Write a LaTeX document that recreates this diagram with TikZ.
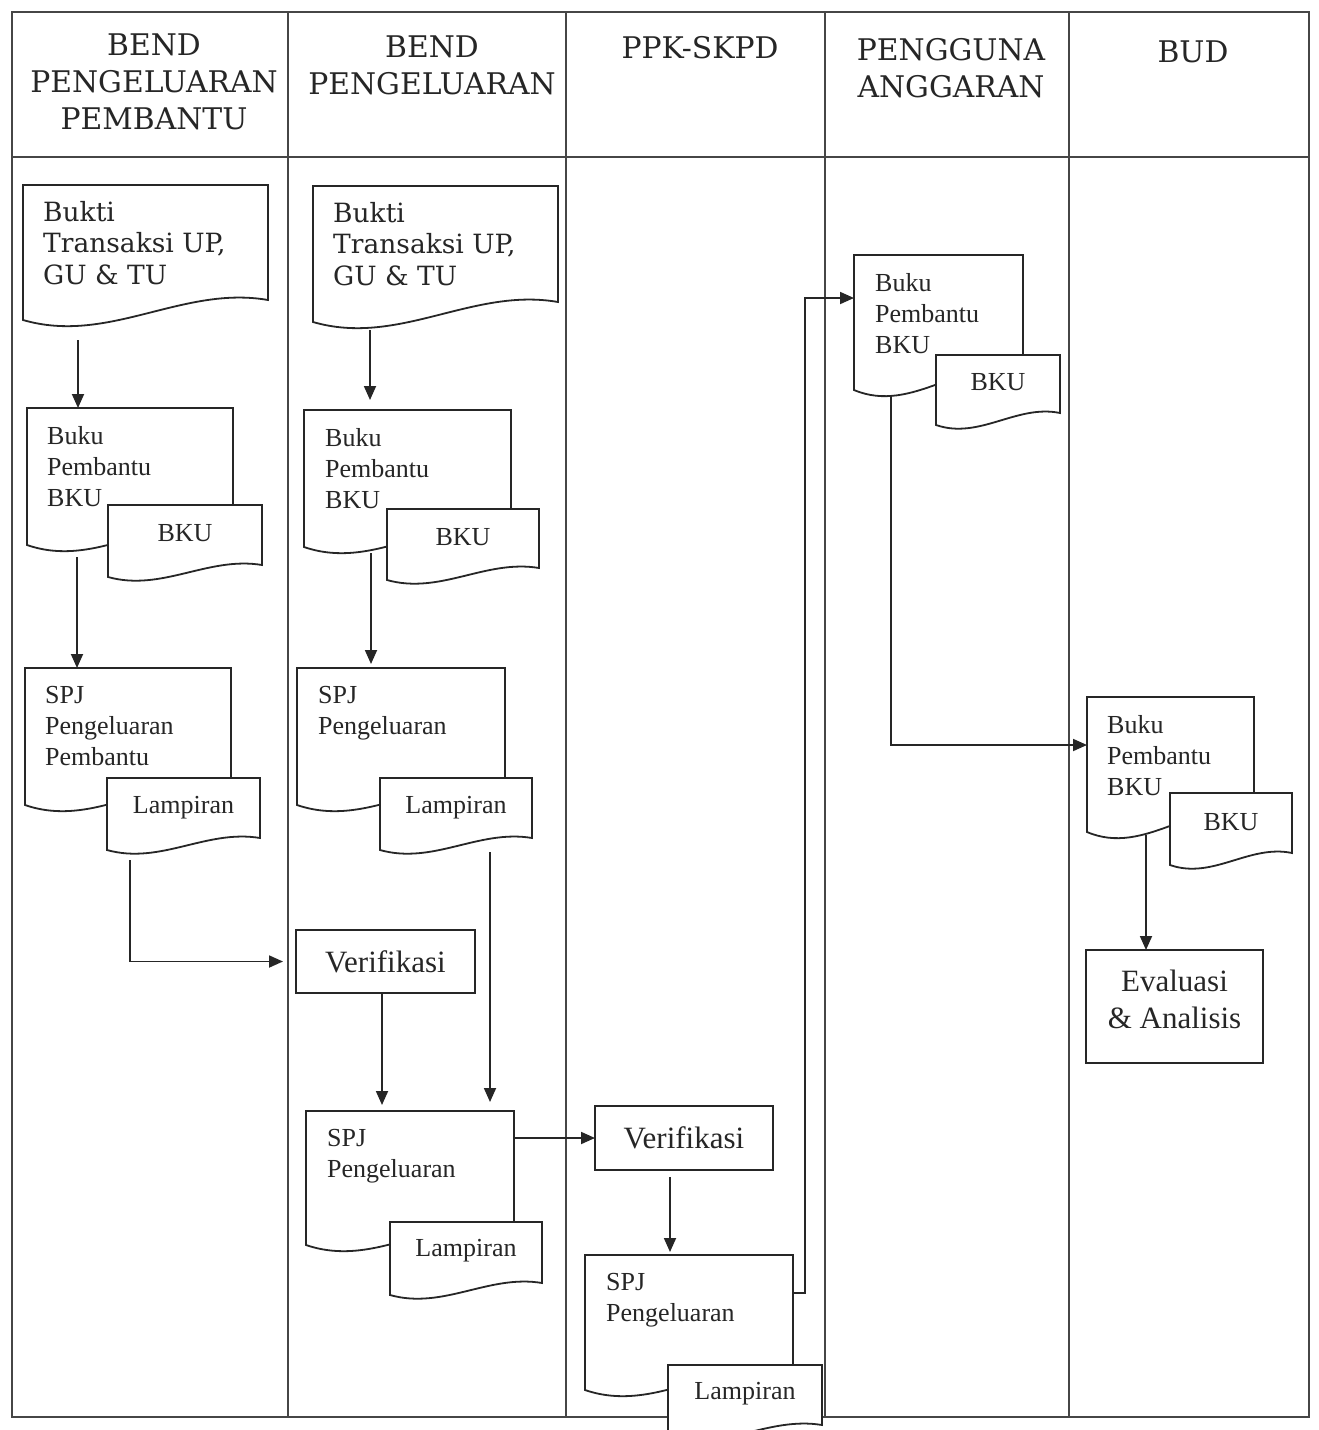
\documentclass[tikz,border=0pt]{standalone}
\usepackage{fontspec}
\newfontfamily\timesfont{Liberation Serif}
\newfontfamily\widefont{DejaVu Serif}
\usetikzlibrary{arrows.meta,calc}

\definecolor{ink}{RGB}{38,38,38}
\definecolor{rule}{RGB}{70,70,70}

% document symbol: rectangle with a wavy lower edge, drawn over an invisible node
\newcommand{\docframe}[2]{%
  \draw[docline] (#1.north west) -- (#1.north east) -- ($(#1.south east)+(0,#2)$)
    .. controls ($(#1.south west)!0.65!(#1.south east)+(0,1.75*#2)$)
    and ($(#1.south west)!0.35!(#1.south east)+(0,-1.25*#2)$) .. (#1.south west) -- cycle;}

\tikzset{
  frameline/.style={draw=rule, line width=1.6pt},
  docline/.style={draw=ink, line width=1.8pt, fill=white, line join=miter},
  docbox/.style={rectangle, inner sep=0pt, outer sep=0pt, anchor=north west},
  proc/.style={draw=ink, line width=1.8pt, fill=white, rectangle, inner sep=0pt,
    outer sep=0pt, anchor=north west, font=\timesfont\fontsize{31}{37}\selectfont, text=ink},
  hdr/.style={align=center, font=\widefont\fontsize{29.8}{37}\selectfont, text=ink, inner sep=0pt},
  lbl/.style={align=left, anchor=north west, inner sep=0pt,
    font=\timesfont\fontsize{26}{31}\selectfont, text=ink},
  bigl/.style={lbl, font=\widefont\fontsize{26.5}{31.5}\selectfont},
  tag/.style={anchor=base, inner sep=0pt, font=\timesfont\fontsize{26}{31}\selectfont, text=ink},
  evalt/.style={align=center, inner sep=0pt, font=\timesfont\fontsize{31}{37}\selectfont, text=ink},
  arr/.style={draw=ink, line width=1.8pt, -{Triangle[length=14pt,width=12pt]}},
}

\begin{document}
\begin{tikzpicture}[x=1pt,y=1pt]
\useasboundingbox (0,0) rectangle (1318,-1430);
\fill[white] (0,0) rectangle (1318,-1430);

% swimlane frame
\draw[frameline] (12,-12) rectangle (1309,-1417);
\draw[frameline] (12,-157) -- (1309,-157);
\foreach \cx in {288,566,825,1069} \draw[frameline] (\cx,-12) -- (\cx,-1417);

% lane headings
\node[hdr] (h1) at (154,-82) {BEND\\PENGELUARAN\\PEMBANTU};
\node[hdr] (h2) at (432,-65.5) {BEND\\PENGELUARAN};
\node[hdr] (h3) at (700,-48) {PPK-SKPD};
\node[hdr] (h4) at (951,-68.5) {PENGGUNA\\ANGGARAN};
\node[hdr] (h5) at (1193,-52) {BUD};

% lane 1
\node[docbox, minimum width=245pt, minimum height=135pt] (bk1) at (23,-185) {};
\docframe{bk1}{20}
\node[bigl] (bk1t) at ($(bk1.north west)+(20,-16)$) {Bukti\\Transaksi UP,\\GU \& TU};

\node[docbox, minimum width=206pt, minimum height=137pt] (bp1) at (27,-408) {};
\docframe{bp1}{20}
\node[lbl] (bp1t) at ($(bp1.north west)+(20,-18)$) {Buku\\Pembantu\\BKU};
\node[docbox, minimum width=154pt, minimum height=72pt] (bku1) at (108,-505) {};
\docframe{bku1}{12}
\node[tag] (bku1t) at ($(bku1.north)+(0,-36)$) {BKU};

\node[docbox, minimum width=206pt, minimum height=137pt] (spj1) at (25,-668) {};
\docframe{spj1}{20}
\node[lbl] (spj1t) at ($(spj1.north west)+(20,-18)$) {SPJ\\Pengeluaran\\Pembantu};
\node[docbox, minimum width=153pt, minimum height=72pt] (lp1) at (107,-778) {};
\docframe{lp1}{12}
\node[tag] (lp1t) at ($(lp1.north)+(0,-35)$) {Lampiran};

% lane 2
\node[docbox, minimum width=245pt, minimum height=136pt] (bk2) at (313,-186) {};
\docframe{bk2}{20}
\node[bigl] (bk2t) at ($(bk2.north west)+(20,-16)$) {Bukti\\Transaksi UP,\\GU \& TU};

\node[docbox, minimum width=207pt, minimum height=137pt] (bp2) at (304,-410) {};
\docframe{bp2}{20}
\node[lbl] (bp2t) at ($(bp2.north west)+(21,-18)$) {Buku\\Pembantu\\BKU};
\node[docbox, minimum width=152pt, minimum height=71pt] (bku2) at (387,-509) {};
\docframe{bku2}{12}
\node[tag] (bku2t) at ($(bku2.north)+(0,-36)$) {BKU};

\node[docbox, minimum width=208pt, minimum height=137pt] (spj2) at (297,-668) {};
\docframe{spj2}{20}
\node[lbl] (spj2t) at ($(spj2.north west)+(21,-18)$) {SPJ\\Pengeluaran};
\node[docbox, minimum width=152pt, minimum height=72pt] (lp2) at (380,-778) {};
\docframe{lp2}{12}
\node[tag] (lp2t) at ($(lp2.north)+(0,-35)$) {Lampiran};

\node[proc, minimum width=179pt, minimum height=63pt] (ver1) at (296,-930) {Verifikasi};

\node[docbox, minimum width=208pt, minimum height=134pt] (spj3) at (306,-1111) {};
\docframe{spj3}{20}
\node[lbl] (spj3t) at ($(spj3.north west)+(21,-18)$) {SPJ\\Pengeluaran};
\node[docbox, minimum width=152pt, minimum height=73pt] (lp3) at (390,-1222) {};
\docframe{lp3}{12}
\node[tag] (lp3t) at ($(lp3.north)+(0,-34)$) {Lampiran};

% lane 3
\node[proc, minimum width=178pt, minimum height=64pt] (ver2) at (595,-1106) {Verifikasi};

\node[docbox, minimum width=208pt, minimum height=135pt] (spj4) at (585,-1255) {};
\docframe{spj4}{20}
\node[lbl] (spj4t) at ($(spj4.north west)+(21,-18)$) {SPJ\\Pengeluaran};
\node[docbox, minimum width=154pt, minimum height=72pt] (lp4) at (668,-1365) {};
\docframe{lp4}{12}
\node[tag] (lp4t) at ($(lp4.north)+(0,-34)$) {Lampiran};

% lane 4
\node[docbox, minimum width=169pt, minimum height=135pt] (bp4) at (854,-255) {};
\docframe{bp4}{20}
\node[lbl] (bp4t) at ($(bp4.north west)+(21,-18)$) {Buku\\Pembantu\\BKU};
\node[docbox, minimum width=124pt, minimum height=70pt] (bku4) at (936,-355) {};
\docframe{bku4}{12}
\node[tag] (bku4t) at ($(bku4.north)+(0,-35)$) {BKU};

% lane 5
\node[docbox, minimum width=167pt, minimum height=135pt] (bp5) at (1087,-697) {};
\docframe{bp5}{20}
\node[lbl] (bp5t) at ($(bp5.north west)+(20,-18)$) {Buku\\Pembantu\\BKU};
\node[docbox, minimum width=122pt, minimum height=72pt] (bku5) at (1170,-793) {};
\docframe{bku5}{12}
\node[tag] (bku5t) at ($(bku5.north)+(0,-37)$) {BKU};

\node[proc, minimum width=177pt, minimum height=113pt] (eval) at (1086,-950) {};
\node[evalt] (evalt) at ($(eval.center)+(0,7)$) {Evaluasi\\\& Analisis};

% flow connectors
\draw[arr, shorten <=20pt] ([xshift=55pt]bk1.south west) -- ([xshift=51pt]bp1.north west);
\draw[arr, shorten <=8pt, shorten >=10pt] ([xshift=57pt]bk2.south west) -- ([xshift=66pt]bp2.north west);
\draw[arr, shorten <=12pt] ([xshift=50pt]bp1.south west) -- ([xshift=52pt]spj1.north west);
\draw[arr, shorten <=6pt, shorten >=4pt] ([xshift=67pt]bp2.south west) -- ([xshift=74pt]spj2.north west);
\draw[arr, shorten <=10pt, shorten >=13pt] ([xshift=23pt]lp1.south west) |- (ver1.west);
\draw[arr, shorten >=6pt] ([xshift=86pt]ver1.south west) -- ([xshift=76pt]spj3.north west);
\coordinate (lp2d) at ([xshift=110pt]lp2.south west);
\draw[arr, shorten <=2pt, shorten >=9pt] (lp2d) -- (lp2d |- spj3.north);
\draw[arr] (spj3.east |- ver2.west) -- (ver2.west);
\draw[arr, shorten <=7pt, shorten >=3pt] ([xshift=75pt]ver2.south west) -- ([xshift=85pt]spj4.north west);
\draw[arr] ([yshift=-38pt]spj4.north east) -- ++(12,0) |- ([yshift=-43pt]bp4.north west);
\draw[arr, shorten <=7pt] ([xshift=37pt]bp4.south west) |- ([yshift=-48pt]bp5.north west);
\draw[arr, shorten <=3pt] ([xshift=59pt]bp5.south west) -- ([xshift=60pt]eval.north west);
\end{tikzpicture}
\end{document}
